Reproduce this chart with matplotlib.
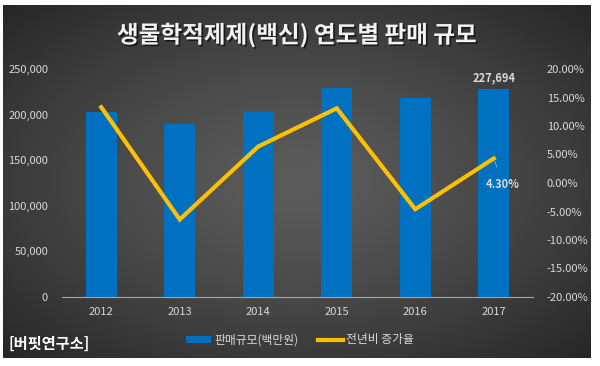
import matplotlib.pyplot as plt
import matplotlib.patheffects as pe
import numpy as np
from matplotlib.patches import Patch
from matplotlib.lines import Line2D
from matplotlib.ticker import FuncFormatter

plt.rcParams['font.family'] = ['Noto Sans CJK KR', 'DejaVu Sans']
plt.rcParams['axes.unicode_minus'] = False

# 데이터
years = ['2012', '2013', '2014', '2015', '2016', '2017']
sales = [203000, 190000, 202500, 229000, 218300, 227694]   # 판매규모(백만원)
growth = [13.3, -6.4, 6.4, 13.1, -4.6, 4.3]                # 전년비 증가율(%)

bar_color = '#0070C0'
line_color = '#FFC000'
tick_color = '#D9D9D9'

fig = plt.figure(figsize=(6, 3.66), dpi=100)
fig.patch.set_facecolor('white')

# 배경 (방사형 그라데이션)
bg = fig.add_axes([3 / 600, 1 - 358 / 366, 588 / 600, 353 / 366])
yy, xx = np.mgrid[-1:1:200j, -1:1:300j]
r = np.sqrt(xx ** 2 + yy ** 2) / np.sqrt(2)
shade = 0.36 - 0.21 * r ** 1.3
bg.imshow(np.dstack([shade] * 3), aspect='auto', extent=[0, 1, 0, 1])
bg.set_axis_off()

ax1 = fig.add_axes([62 / 600, 1 - 297 / 366, 471 / 600, 228 / 366])
ax1.patch.set_alpha(0)
x = np.arange(len(years))
ax1.bar(x, sales, width=0.4, color=bar_color, zorder=2)
ax1.set_xlim(-0.5, len(years) - 0.5)
ax1.set_ylim(0, 250000)
ax1.set_yticks(np.arange(0, 250001, 50000))
ax1.yaxis.set_major_formatter(FuncFormatter(lambda v, p: f'{int(v):,}'))
ax1.set_xticks(x)
ax1.set_xticklabels(years)
for s in ['top', 'right', 'left']:
    ax1.spines[s].set_visible(False)
ax1.spines['bottom'].set_color('#A6A6A6')
ax1.tick_params(axis='both', length=0, colors=tick_color, labelsize=8)
ax1.tick_params(axis='y', pad=10)
ax1.tick_params(axis='x', pad=7)

# 마지막 막대 값 레이블
ax1.text(x[-1], sales[-1] + 5000, f'{sales[-1]:,}', ha='center', va='bottom',
         color=tick_color, fontsize=8, fontweight='bold')

ax2 = ax1.twinx()
ax2.plot(x, growth, color=line_color, linewidth=3, solid_joinstyle='miter', zorder=3)
ax2.set_ylim(-20, 20)
ax2.set_yticks(np.arange(-20, 20.1, 5))
ax2.yaxis.set_major_formatter(FuncFormatter(lambda v, p: f'{v:.2f}%'))
for s in ax2.spines.values():
    s.set_visible(False)
ax2.tick_params(axis='y', length=0, colors=tick_color, labelsize=8, pad=10)

# 마지막 증가율 레이블
ax2.annotate(f'{growth[-1]:.2f}%', xy=(x[-1], growth[-1]),
             xytext=(x[-1] + 0.12, growth[-1] - 4.5), ha='center', va='center',
             color=tick_color, fontsize=8, fontweight='bold',
             arrowprops=dict(arrowstyle='-', color='#8EB4E3', lw=0.6,
                             shrinkA=6, shrinkB=2))

fig.text(297 / 600, 1 - 35 / 366, '생물학적제제(백신) 연도별 판매 규모', ha='center', va='center',
         color='#F2F2F2', fontsize=17, fontweight='bold',
         path_effects=[pe.withSimplePatchShadow(offset=(1.2, -1.2), shadow_rgbFace='black', alpha=0.6)])

fig.text(9 / 600, 1 - 344 / 366, '[버핏연구소]', ha='left', va='center',
         color='white', fontsize=11, fontweight='bold')

handles = [Patch(facecolor=bar_color, label='판매규모(백만원)'),
           Line2D([0], [0], color=line_color, lw=3, label='전년비 증가율')]
fig.legend(handles=handles, loc='center', bbox_to_anchor=(300 / 600, 1 - 340 / 366),
           ncol=2, frameon=False, fontsize=8.5, labelcolor=tick_color,
           handlelength=2.1, handleheight=0.5, handletextpad=0.25, columnspacing=1.7)

fig.savefig('out.png', dpi=100)
